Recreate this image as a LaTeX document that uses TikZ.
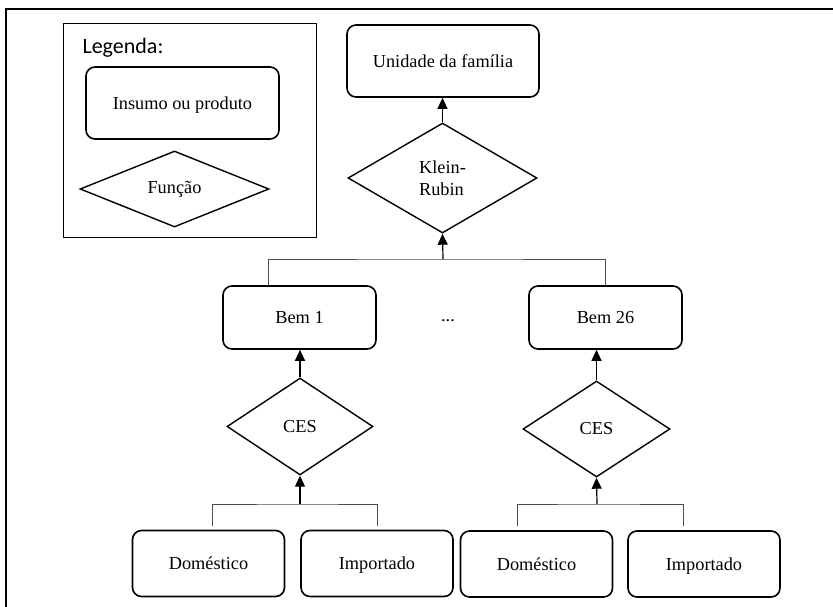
\documentclass[tikz,border=0pt]{standalone}
\usepackage{fontspec}
\setmainfont{Liberation Serif}
\newfontfamily\legfont{Carlito}
\usetikzlibrary{arrows.meta,positioning,calc,shapes.geometric}

\begin{document}
\begin{tikzpicture}[x=1pt, y=-1pt,
  rec/.style={draw, line width=1.6pt, rounded corners=9pt, inner sep=0pt,
              minimum width=152pt, minimum height=66pt, align=center,
              text height=12pt, text depth=0pt,
              font=\fontsize{18.3}{21.5}\selectfont},
  fn/.style={draw, diamond, line width=1.4pt, inner sep=0pt, align=left,
             font=\fontsize{18.3}{21.5}\selectfont},
  lbl/.style={font=\fontsize{18.3}{21.5}\selectfont, align=center},
  link/.style={draw=black!70, line width=0.9pt},
  arr/.style={-{Triangle[length=11pt,width=10pt]}, line width=1.2pt}]
  \useasboundingbox (0,0) rectangle (833,606);
  \draw[line width=2.6pt] (6,640) |- (860,9);
  \node[draw, line width=0.9pt, minimum width=253pt, minimum height=214pt] (legend) at (189.5,130) {};
  \node[anchor=base west, font=\legfont\fontsize{22}{26}\selectfont] (legtitle) at (79,53) {Legenda:};
  \node[rec, minimum width=193pt, minimum height=72pt] (key) at (182.5,103) {Insumo ou produto};
  \node[fn, minimum width=189pt, minimum height=76pt] (keyfn) at (174.5,189) {Função};
  \node[rec, minimum width=192pt, minimum height=72pt] (util) at (443,61) {Unidade da família};
  \node[fn, minimum width=189pt, minimum height=110pt] (kr) at (442.5,178) {Klein-\\Rubin};
  \node[rec, minimum width=153pt, minimum height=63pt] (bem1) at (299.5,317.5) {Bem 1};
  \node[rec, minimum width=153pt, minimum height=63pt] (bem26) at (605.5,317.5) {Bem 26};
  \node[lbl] (dots) at (448,321) {...};
  \node[fn, minimum width=146pt, minimum height=97pt] (ces1) at (300,426.5) {CES};
  \node[fn, minimum width=147pt, minimum height=96pt] (ces2) at (596.5,429) {CES};
  \node[rec] (dom1) at (208.5,563.5) {Doméstico};
  \node[rec] (imp1) at (377,563.5) {Importado};
  \node[rec] (dom2) at (536.5,564) {Doméstico};
  \node[rec] (imp2) at (704,564) {Importado};
  \coordinate (j0) at (443,259);
  \coordinate (j1) at (300,504);
  \coordinate (j2) at (597,504);
  \draw[arr] (kr.north) -- (kr.north |- util.south);
  \draw[link] ([xshift=-31.5pt]bem1.north) |- (j0) -| (bem26.north);
  \draw[arr] (j0) -- (kr.south);
  \draw[arr] (ces1.north) -- (ces1.north |- bem1.south);
  \draw[arr] (ces2.north) -- (ces2.north |- bem26.south);
  \draw[link] ([shift={(3.5pt,4pt)}]dom1.north) |- (j1) -| ([yshift=4pt]imp1.north);
  \draw[arr] (j1) -- (ces1.south);
  \draw[link] ([shift={(-19.5pt,4pt)}]dom2.north) |- (j2) -| ([shift={(-21pt,4pt)}]imp2.north);
  \draw[arr] (j2) -- (ces2.south);
\end{tikzpicture}
\end{document}
